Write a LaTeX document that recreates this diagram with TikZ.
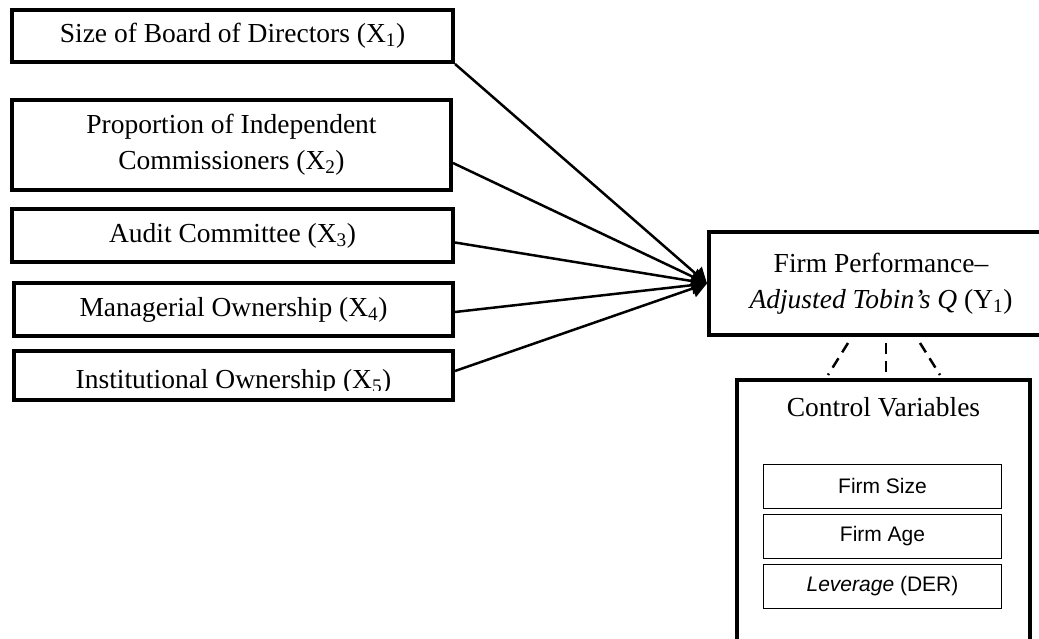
\documentclass[tikz,border=0pt]{standalone}
\usepackage{fontspec}
\setmainfont{Liberation Serif}
\setsansfont{Liberation Sans}
\usepackage{tikz}
\usetikzlibrary{arrows.meta,positioning}
\newcommand{\boxfont}{\fontsize{27.5pt}{36pt}\selectfont}
\newcommand{\itemfont}{\sffamily\fontsize{21pt}{25pt}\selectfont}
\tikzstyle{block} = [rectangle, draw, line width=4pt, align=center,
                     inner sep=0pt, font=\boxfont]
\tikzstyle{item} = [rectangle, draw, line width=1pt, align=center,
                    minimum width=238pt, minimum height=44pt, inner sep=0pt,
                    font=\itemfont]
\tikzstyle{arrow} = [-{Triangle[length=15pt,width=18pt]}, line width=2.5pt]
\tikzstyle{dashline} = [dash pattern=on 11pt off 7pt, line width=2.5pt]

\begin{document}
\begin{tikzpicture}[x=1pt, y=-1pt]
    \useasboundingbox (0,0) rectangle (1039,639);
    \clip (0,0) rectangle (1039,639);

    % independent variables
    \node [block, minimum width=441pt, minimum height=52pt] (x1) at (232.5,36) {Size of Board of Directors (X\textsubscript{1})};
    \node [block, minimum width=439pt, minimum height=90pt] (x2) at (231.5,145) {Proportion of Independent\\Commissioners (X\textsubscript{2})};
    \node [block, minimum width=441pt, minimum height=53pt] (x3) at (232.5,235.5) {Audit Committee (X\textsubscript{3})};
    \node [block, minimum width=439pt, minimum height=53pt] (x4) at (233.5,309.5) {Managerial Ownership (X\textsubscript{4})};
    \node [block, minimum width=439pt, minimum height=49pt] (x5) at (233.5,375.5) {};
    \begin{scope}
      \clip (x5.north west) rectangle ([yshift=12pt]x5.south east);
      \node [font=\boxfont] (x5text) at ([yshift=-6pt]x5.center) {Institutional Ownership (X\textsubscript{5})};
    \end{scope}

    % dependent variable and controls
    \node [block, minimum width=344pt, minimum height=103pt] (y1) at (881,283.5) {Firm Performance--\\\textit{Adjusted Tobin's Q} (Y\textsubscript{1})};
    \node [block, minimum width=293pt, minimum height=270pt] (ctrl) at (883.5,515) {};
    \node [font=\boxfont, inner sep=0pt, below=19pt of ctrl.north] (ctrltitle) {Control Variables};
    \node [item] (fsize) at (882.5,486) {Firm Size};
    \node [item, below=5pt of fsize] (fage) {Firm Age};
    \node [item, below=5pt of fage] (lev) {\textit{Leverage} (DER)};

    \draw [arrow] (x1.south east) -- (y1.west);
    \draw [arrow] ([yshift=-18pt]x2.east) -- (y1.west);
    \draw [arrow] ([yshift=-7pt]x3.east) -- (y1.west);
    \draw [arrow] ([yshift=-2.5pt]x4.east) -- (y1.west);
    \draw [arrow] ([yshift=4.5pt]x5.east) -- (y1.west);

    \draw [dashline] ([xshift=-33pt,yshift=-6pt]y1.south) -- ([xshift=-55.5pt,yshift=3pt]ctrl.north);
    \draw [dashline] ([xshift=5pt,yshift=-6pt]y1.south) -- ([xshift=2.5pt,yshift=3pt]ctrl.north);
    \draw [dashline] ([xshift=39pt,yshift=-6pt]y1.south) -- ([xshift=56.5pt,yshift=3pt]ctrl.north);
\end{tikzpicture}
\end{document}
